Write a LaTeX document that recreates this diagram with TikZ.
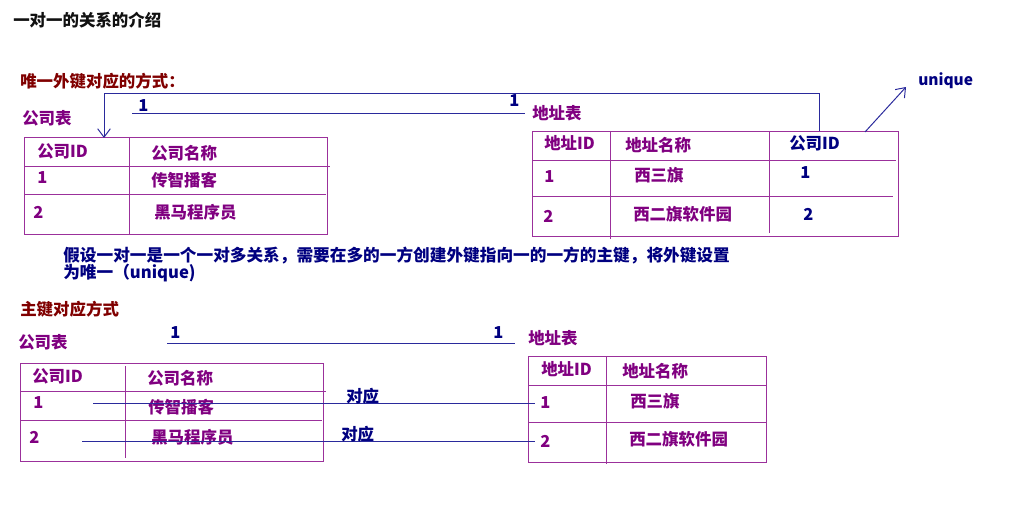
\documentclass[tikz,border=0pt]{standalone}
\usepackage{fontspec}
\setmainfont{Noto Sans CJK SC}
\usetikzlibrary{arrows.meta,positioning,calc}
\definecolor{ink}{HTML}{111111}
\definecolor{darkred}{HTML}{800000}
\definecolor{plum}{HTML}{800080}
\definecolor{plumline}{HTML}{9B309B}
\definecolor{navy}{HTML}{000080}
\definecolor{navyline}{HTML}{2A2A9C}

\begin{document}
\begin{tikzpicture}[x=0.025cm,y=-0.025cm,
  txt/.style={anchor=west,inner sep=0pt,font=\fontsize{11.7pt}{12pt}\selectfont\bfseries},
  head/.style={txt,text=darkred},
  tabname/.style={txt,text=plum},
  cell/.style={txt,text=plum},
  fkcell/.style={txt,text=navy},
  relnum/.style={txt,text=navy},
  grid/.style={draw=plumline,line width=0.7pt},
  rel/.style={draw=navyline,line width=0.7pt},
  arrowline/.style={rel,-{Straight Barb[length=6pt,width=9pt]}}
]
\useasboundingbox (0,0) rectangle (1017,511);

\node[txt,text=ink] (title) at (13,20) {一对一的关系的介绍};

% unique foreign key
\node[head] (uqhead) at (20,81) {唯一外键对应的方式：};
\node[tabname] (comptitle) at (22,118) {公司表};
\node[tabname] (addrtitle) at (532,113) {地址表};

\draw[grid] (24,137) rectangle (327,234);
\draw[grid] (24,166) -- (330,166);
\draw[grid] (24,194) -- (326,194);
\draw[grid] (129,137) -- (129,234);
\foreach \x/\y/\t/\n in {37/151/公司ID/cid, 151/153/公司名称/cname,
    37/178/1/c1, 151/180/传智播客/cn1, 33/212/2/c2, 154/212/黑马程序员/cn2}
  \node[cell] (\n) at (\x,\y) {\t};

\draw[grid] (532,131) rectangle (898,236);
\draw[grid] (532,160) -- (896,160);
\draw[grid] (532,196) -- (893,196);
\draw[grid] (610,131) -- (610,239);
\draw[grid] (769,131) -- (769,233);
\foreach \x/\y/\t/\n in {544/143/地址ID/aid, 625/145/地址名称/aname,
    544/177/1/a1, 634/175/西三旗/an1, 543/216/2/a2, 633/214/西二旗软件园/an2}
  \node[cell] (\n) at (\x,\y) {\t};
\foreach \x/\y/\t/\n in {789/143/公司ID/fkid, 800/173/1/fk1, 803/214/2/fk2}
  \node[fkcell] (\n) at (\x,\y) {\t};

\coordinate (fktop) at (819,131);
\coordinate (bend) at (104,93);
\coordinate (pktop) at (104,138);
\draw[arrowline] (fktop) |- (bend) -- (pktop);

\coordinate (relstart) at (132,113);
\draw[rel,shorten >=5pt] (relstart) -- (addrtitle.west);
\node[relnum] (onea) at (138,106) {1};
\node[relnum] (oneb) at (509,101) {1};

\node[txt,text=navy,font=\fontsize{11pt}{11pt}\selectfont\bfseries] (uqlabel) at (918,81) {unique};
\coordinate (uqfoot) at (865,132);
\coordinate (uqtip) at (906,87);
\draw[arrowline] (uqfoot) -- (uqtip);

\node[txt,text=navy,align=left,font=\fontsize{11.85pt}{12.1pt}\selectfont\bfseries] (note) at (63,264)
  {假设一对一是一个一对多关系，需要在多的一方创建外键指向一的一方的主键，将外键设置\\为唯一（unique)};

% primary key
\node[head] (pkhead) at (20,309) {主键对应方式};
\node[tabname] (comptitleb) at (18,342) {公司表};
\node[tabname] (addrtitleb) at (528,338) {地址表};

\coordinate (relstartb) at (167,343);
\draw[rel] (relstartb) -- ($(addrtitleb.west)+(-13,5)$);
\node[relnum] (onec) at (170,333) {1};
\node[relnum] (oned) at (493,333) {1};

\draw[grid] (20,363) rectangle (323,461);
\draw[grid] (20,391) -- (326,391);
\draw[grid] (20,420) -- (322,420);
\draw[grid] (125,366) -- (125,458);
\foreach \x/\y/\t/\n in {32/376/公司ID/bcid, 147/378/公司名称/bcname,
    33/403/1/bc1, 148/407/传智播客/bcn1, 29/437/2/bc2, 151/437/黑马程序员/bcn2}
  \node[cell] (\n) at (\x,\y) {\t};

\draw[grid] (528,356) rectangle (766,462);
\draw[grid] (528,385) -- (766,385);
\draw[grid] (528,422) -- (766,422);
\draw[grid] (606,356) -- (606,464);
\foreach \x/\y/\t/\n in {541/369/地址ID/baid, 622/371/地址名称/baname,
    540/403/1/ba1, 630/401/西三旗/ban1, 540/441/2/ba2, 629/439/西二旗软件园/ban2}
  \node[cell] (\n) at (\x,\y) {\t};

\coordinate (mapa) at (93,403);
\coordinate (mapb) at (82,441);
\draw[rel,shorten >=3.5pt] (mapa) -- (ba1.west);
\draw[rel,shorten >=3.5pt] (mapb) -- (ba2.west);
\node[relnum] (mapla) at (346,396) {对应};
\node[relnum] (maplb) at (341,434) {对应};
\end{tikzpicture}
\end{document}
